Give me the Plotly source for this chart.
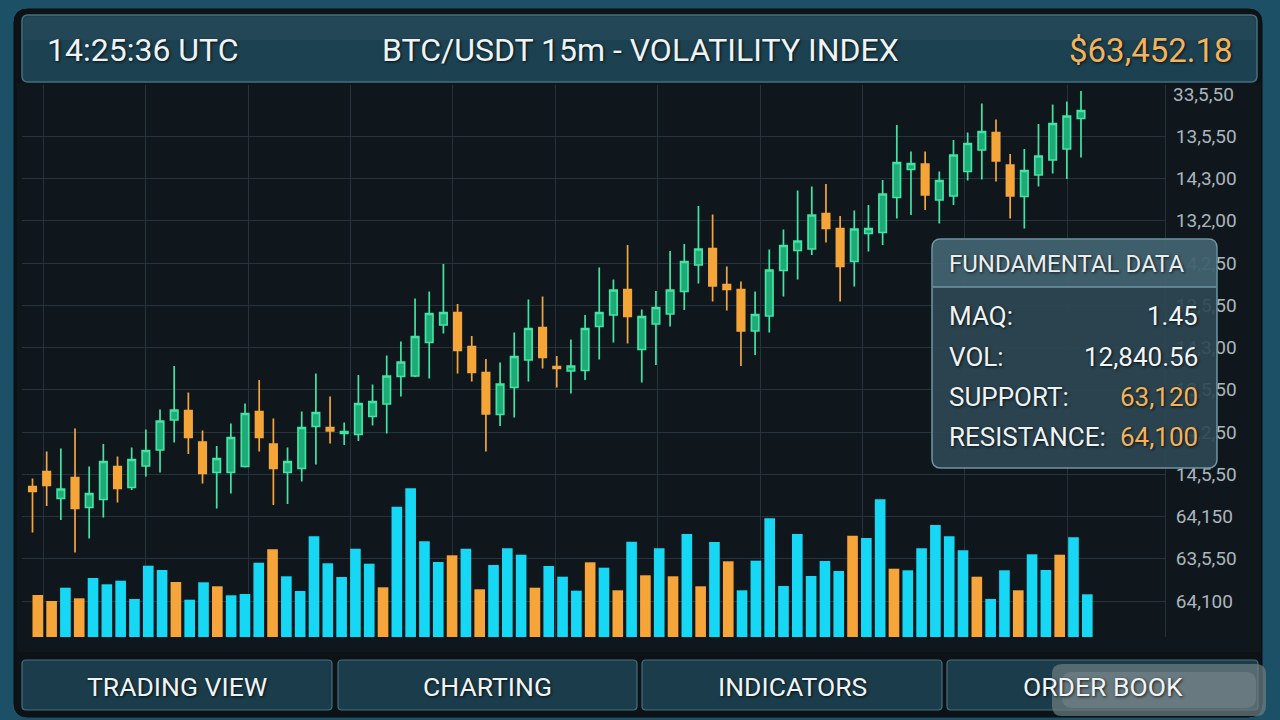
import plotly.graph_objects as go

# ---------------- data ----------------
candle_open = [63327, 63357, 63303, 63345, 63285, 63301, 63367, 63325, 63368, 63400,
               63460, 63479, 63416, 63355, 63355, 63367, 63477, 63412, 63355, 63363,
               63447, 63445, 63433, 63431, 63467, 63492, 63547, 63548, 63615, 63650,
               63675, 63607, 63555, 63471, 63525, 63580, 63645, 63567, 63558, 63559,
               63647, 63670, 63721, 63601, 63652, 63672, 63717, 63770, 63803, 63731,
               63721, 63638, 63668, 63759, 63799, 63802, 63873, 63843, 63777, 63833,
               63835, 63905, 63961, 63972, 63900, 63908, 63957, 64000, 64035, 63970,
               63907, 63950, 63980, 64002, 64063]
candle_high = [63343, 63397, 63403, 63443, 63367, 63412, 63387, 63405, 63441, 63481,
               63568, 63515, 63439, 63408, 63453, 63493, 63540, 63463, 63405, 63477,
               63553, 63507, 63455, 63550, 63531, 63589, 63617, 63703, 63717, 63772,
               63692, 63628, 63582, 63575, 63635, 63701, 63707, 63588, 63621, 63670,
               63765, 63741, 63810, 63681, 63718, 63798, 63812, 63888, 63871, 63767,
               63737, 63717, 63801, 63841, 63919, 63927, 63932, 63868, 63879, 63890,
               63940, 64050, 63997, 63997, 63957, 64020, 64035, 64093, 64061, 63992,
               64002, 64052, 64091, 64097, 64118]
candle_low = [63235, 63288, 63260, 63195, 63223, 63265, 63295, 63320, 63347, 63355,
              63415, 63392, 63333, 63283, 63313, 63365, 63397, 63290, 63292, 63337,
              63371, 63413, 63410, 63418, 63449, 63433, 63507, 63546, 63543, 63633,
              63553, 63537, 63397, 63448, 63465, 63537, 63563, 63525, 63513, 63540,
              63581, 63615, 63613, 63535, 63570, 63647, 63680, 63733, 63697, 63679,
              63568, 63590, 63635, 63707, 63741, 63790, 63815, 63697, 63727, 63797,
              63810, 63863, 63870, 63880, 63853, 63890, 63939, 63941, 63937, 63863,
              63843, 63927, 63953, 63942, 63985]
candle_close = [63317, 63329, 63322, 63283, 63313, 63377, 63323, 63381, 63399, 63458,
                63480, 63425, 63353, 63383, 63425, 63473, 63425, 63363, 63377, 63445,
                63475, 63438, 63437, 63493, 63497, 63548, 63576, 63627, 63673, 63675,
                63599, 63555, 63472, 63532, 63587, 63643, 63585, 63563, 63568, 63643,
                63675, 63720, 63667, 63667, 63685, 63720, 63777, 63802, 63728, 63721,
                63638, 63671, 63760, 63809, 63818, 63870, 63843, 63767, 63842, 63843,
                63912, 63975, 63973, 63910, 63939, 63990, 64013, 64037, 63978, 63908,
                63959, 63988, 64053, 64068, 64079]

volume = [420, 360, 493, 387, 590, 527, 563, 380, 713, 670,
          550, 373, 547, 507, 417, 430, 743, 877, 607, 460,
          1007, 737, 600, 883, 733, 497, 1303, 1487, 957, 750,
          817, 883, 477, 720, 887, 823, 493, 710, 603, 463,
          747, 693, 467, 953, 617, 887, 607, 1030, 507, 950,
          757, 467, 763, 1187, 510, 1030, 610, 760, 660, 1013,
          990, 1377, 683, 667, 887, 1120, 1007, 867, 603, 380,
          667, 467, 827, 670, 823, 997, 427]
# 1 = sell (orange), 0 = buy (cyan)
volume_sell = [1, 1, 0, 1, 0, 0, 0, 0, 0, 0,
               1, 0, 0, 1, 0, 0, 0, 1, 0, 0,
               0, 0, 0, 0, 0, 1, 0, 0, 0, 0,
               1, 0, 1, 0, 0, 0, 1, 0, 0, 0,
               1, 0, 1, 0, 1, 0, 1, 0, 1, 0,
               1, 0, 0, 0, 0, 0, 0, 0, 0, 1,
               0, 0, 1, 0, 0, 0, 0, 0, 1, 0,
               0, 1, 0, 0, 1, 0, 0]

price_tick_vals = [64112, 64027.5, 63943, 63858.5, 63774, 63689.5, 63605,
                   63520.5, 63436, 63351.5, 63267, 63182.5, 63098]
price_tick_text = ["33,5,50", "13,5,50", "14,3,00", "13,2,00", "14,2,50", "13,5,50",
                   "14,3,00", "13,5,50", "14,2,50", "14,5,50", "64,150", "63,5,50", "64,100"]

header_left = "14:25:36 UTC"
header_title = "BTC/USDT 15m - VOLATILITY INDEX"
header_price = "$63,452.18"
info_title = "FUNDAMENTAL DATA"
info_labels = ["MAQ:", "VOL:", "SUPPORT:", "RESISTANCE:"]
info_values = ["1.45", "12,840.56", "63,120", "64,100"]
info_value_colors = ["#f2f5f7", "#f2f5f7", "#f3b35c", "#f3b35c"]
buttons = ["TRADING VIEW", "CHARTING", "INDICATORS", "ORDER BOOK"]

# ---------------- geometry helpers (decoration only) ----------------
W, H = 1280, 720
PL, PR, PT, PB = 22, 1165, 85, 637


def px(x):
    return (x - PL) / (PR - PL)


def py(y):
    return (PB - y) / (PB - PT)


def rrect(x0, y0, x1, y1, r, top_only=False):
    rb = 0 if top_only else r
    pts = [
        ("M", (x0 + r, y0)), ("L", (x1 - r, y0)), ("Q", (x1, y0), (x1, y0 + r)),
        ("L", (x1, y1 - rb)), ("Q", (x1, y1), (x1 - rb, y1)),
        ("L", (x0 + rb, y1)), ("Q", (x0, y1), (x0, y1 - rb)),
        ("L", (x0, y0 + r)), ("Q", (x0, y0), (x0 + r, y0)),
    ]
    s = ""
    for item in pts:
        cmd = item[0]
        coords = " ".join(f"{px(a):.5f},{py(b):.5f}" for a, b in item[1:])
        s += f"{cmd} {coords} "
    return s + "Z"


shapes = []


def add_rr(x0, y0, x1, y1, r, fill, line=None, lw=0, layer="below", top_only=False):
    shapes.append(dict(type="path", path=rrect(x0, y0, x1, y1, r, top_only),
                       xref="paper", yref="paper", fillcolor=fill,
                       line=dict(color=line or fill, width=lw), layer=layer))


# outer dark frame
add_rr(14, 9, 1262, 717, 14, "#0c1216", "#0a0f12", 1)
# chart area
add_rr(17, 83, 1261, 652, 2, "#10171c")
# header bar
add_rr(22, 15, 1257, 82, 6, "#1c4252", "#44707f", 1.5)
add_rr(24, 17, 1255, 40, 5, "rgba(255,255,255,0.03)", top_only=True)
# buttons
btn_x = [(22, 332), (338, 637), (642, 942), (947, 1258)]
for (a, b) in btn_x:
    add_rr(a, 660, b, 710, 4, "#1b3d4b", "#44707f", 1.2)
# blurred watermark patch
add_rr(1052, 664, 1266, 716, 10, "rgba(110,125,130,0.70)", layer="above")
add_rr(1062, 672, 1256, 708, 10, "rgba(140,152,156,0.35)", layer="above")
# info box
add_rr(932, 239, 1217, 468, 9, "rgba(44,72,84,0.92)", "#6f96a4", 1.5, layer="above")
add_rr(933, 240, 1216, 287, 8, "rgba(88,128,142,0.45)", layer="above", top_only=True)
shapes.append(dict(type="line", xref="paper", yref="paper", x0=px(933), x1=px(1216),
                   y0=py(287), y1=py(287), line=dict(color="#6f96a4", width=1.5), layer="above"))

# ---------------- traces ----------------
candle_x = list(range(len(candle_open)))
vol_x = list(range(len(volume)))
vol_colors = ["#f6a53a" if s else "#17d8f4" for s in volume_sell]

fig = go.Figure()
fig.add_trace(go.Bar(
    x=vol_x, y=volume, width=0.77, marker=dict(color=vol_colors, line=dict(width=0)),
    xaxis="x2", yaxis="y2", hoverinfo="skip", showlegend=False))
fig.add_trace(go.Candlestick(
    x=candle_x, open=candle_open, high=candle_high, low=candle_low, close=candle_close,
    increasing=dict(line=dict(color="#43e3a3", width=1.7), fillcolor="#1eaa77"),
    decreasing=dict(line=dict(color="#f3a63e", width=1.7), fillcolor="#f5a535"),
    whiskerwidth=0, hoverinfo="skip", showlegend=False))

# candle axis: first candle near 32.5px, last near 1081px
c_first, c_last = 32.5, 1081.0
cstep = (c_last - c_first) / 74
cx0 = -(c_first - PL) / cstep
cx1 = 74 + (PR - c_last) / cstep
# volume axis: bar0 at 37.8px, bar76 at 1087.3px
vstep = (1087.3 - 37.8) / 76
vx0 = -(37.8 - PL) / vstep
vx1 = 76 + (PR - 1087.3) / vstep

grid_col = "#27333c"
annotations = []


def ann(text, x, y, size, color, xanchor="left", shadow="1px 1px 3px rgba(0,0,0,0.8)", **kw):
    annotations.append(dict(text=text, x=px(x), y=py(y), xref="paper", yref="paper",
                            xanchor=xanchor, yanchor="middle", showarrow=False,
                            font=dict(family="Roboto", size=size, color=color, shadow=shadow), **kw))


ann(header_left, 45, 50, 32, "#eef3f5")
ann(header_title, 640, 50, 32, "#eef3f5", xanchor="center")
ann(header_price, 1235, 50, 33, "#f3b35c", xanchor="right")
ann(info_title, 947, 264, 24, "#e9eff1")
rows_y = [316, 357, 397, 437]
for lab, val, col, yy in zip(info_labels, info_values, info_value_colors, rows_y):
    ann(lab, 947, yy, 26, "#eef3f5")
    ann(val, 1200, yy, 26, col, xanchor="right")
for (a, b), t in zip(btn_x, buttons):
    ann(t, (a + b) / 2, 686, 26.5, "#f0f4f6", xanchor="center")
# top tick label (no grid line drawn at this level)
annotations.append(dict(text=price_tick_text[0], x=1, xref="paper", xanchor="left", xshift=6,
                        y=price_tick_vals[0], yref="y", yanchor="middle", showarrow=False,
                        font=dict(family="Roboto", size=19, color="#aab5bc")))

fig.update_layout(
    width=W, height=H, autosize=False,
    margin=dict(l=PL, r=W - PR, t=PT, b=H - PB, pad=0),
    paper_bgcolor="#1c5066", plot_bgcolor="rgba(0,0,0,0)",
    font=dict(family="Roboto", color="#aab5bc"),
    barmode="overlay", boxgap=0.25,
    showlegend=False, hovermode=False,
    xaxis=dict(range=[cx0, cx1], rangeslider=dict(visible=False), showgrid=True,
               gridcolor=grid_col, gridwidth=1, tick0=(43.3 - c_first) / cstep,
               dtick=102.4 / cstep, showticklabels=False, ticks="", zeroline=False,
               showline=False, fixedrange=True),
    yaxis=dict(range=[63026, 64130], side="right", tickmode="array",
               tickvals=price_tick_vals[1:], ticktext=price_tick_text[1:],
               showgrid=True, gridcolor=grid_col, gridwidth=1, zeroline=False,
               showline=True, linecolor="#27333c", linewidth=1, ticks="",
               ticklabelstandoff=6, tickfont=dict(family="Roboto", size=19, color="#aab5bc"),
               fixedrange=True),
    xaxis2=dict(range=[vx0, vx1], overlaying="x", visible=False, fixedrange=True),
    yaxis2=dict(range=[0, 5520], overlaying="y", visible=False, fixedrange=True),
    shapes=shapes, annotations=annotations,
)

fig.write_html("out.html", config={"displayModeBar": False, "staticPlot": True},
               post_script="document.body.style.margin='0';document.body.style.overflow='hidden';")
